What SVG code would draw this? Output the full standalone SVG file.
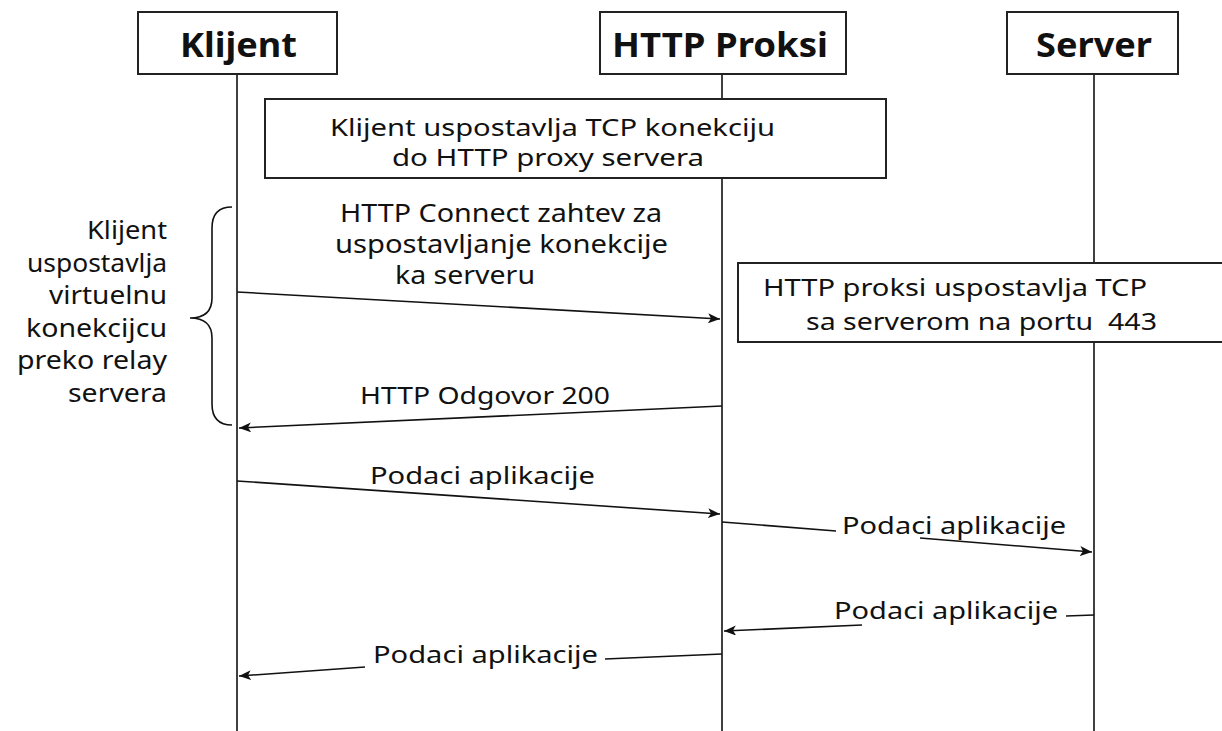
<svg xmlns="http://www.w3.org/2000/svg" width="1222" height="731" viewBox="0 0 1222 731">
<style>
.box{fill:#fff;stroke:#222;stroke-width:2}
.life{stroke:#111;stroke-width:1.6;fill:none}
.msg{stroke:#111;stroke-width:1.6;fill:none}
.title{font-family:"Noto Sans","DejaVu Sans",sans-serif;font-weight:bold;font-size:34px;fill:#111}
.t{font-family:"Noto Sans","DejaVu Sans",sans-serif;font-size:24px;fill:#111}
.tc{font-family:"Noto Sans","DejaVu Sans",sans-serif;font-size:25px;fill:#111}
.tb{font-family:"Noto Sans","DejaVu Sans",sans-serif;font-size:24px;fill:#111}
.side{font-family:"Noto Sans","DejaVu Sans",sans-serif;font-size:25px;fill:#111}
</style>
<defs>
<marker id="ah" viewBox="0 0 12 10" refX="12" refY="5" markerWidth="12" markerHeight="10" markerUnits="userSpaceOnUse" orient="auto">
<path d="M0,0 L12,5 L0,10 L3,5 Z" fill="#111"/>
</marker>
</defs>
<rect width="1222" height="731" fill="#fff"/>
<g id="lifelines">
<line class="life" x1="237" y1="74" x2="237" y2="731"/>
<line class="life" x1="722" y1="74" x2="722" y2="731"/>
<line class="life" x1="1094" y1="74" x2="1094" y2="731"/>
</g>
<g id="klijent">
<rect class="box" x="138" y="12" width="199" height="62"/>
<text class="title" x="180" y="57" textLength="117" lengthAdjust="spacingAndGlyphs">Klijent</text>
</g>
<g id="proksi">
<rect class="box" x="600" y="12" width="246" height="62"/>
<text class="title" x="612" y="57" textLength="216" lengthAdjust="spacingAndGlyphs">HTTP Proksi</text>
</g>
<g id="server">
<rect class="box" x="1007" y="12" width="171" height="62"/>
<text class="title" x="1036" y="57" textLength="116" lengthAdjust="spacingAndGlyphs">Server</text>
</g>
<g id="note1">
<rect class="box" x="265" y="99" width="621" height="79"/>
<text class="tb" x="330" y="136" textLength="445" lengthAdjust="spacingAndGlyphs">Klijent uspostavlja TCP konekciju</text>
<text class="tb" x="392" y="166" textLength="312" lengthAdjust="spacingAndGlyphs">do HTTP proxy servera</text>
</g>
<g id="note2">
<rect class="box" x="738" y="263" width="490" height="79"/>
<text class="t" x="763" y="296" textLength="384" lengthAdjust="spacingAndGlyphs">HTTP proksi uspostavlja TCP</text>
<text class="t" x="806" y="330" textLength="351" lengthAdjust="spacingAndGlyphs" xml:space="preserve">sa serverom na portu  443</text>
</g>
<g id="brace-note">
<path class="msg" d="M232,207 C218,207 212,214 212,228 L212,298 C212,312 204,318 190,318 C204,318 212,324 212,338 L212,404 C212,418 218,425 232,425"/>
<text class="side" x="167" y="239" text-anchor="end" textLength="80" lengthAdjust="spacingAndGlyphs">Klijent</text>
<text class="side" x="167" y="271.5" text-anchor="end" textLength="140" lengthAdjust="spacingAndGlyphs">uspostavlja</text>
<text class="side" x="167" y="304" text-anchor="end" textLength="118" lengthAdjust="spacingAndGlyphs">virtuelnu</text>
<text class="side" x="167" y="336.5" text-anchor="end" textLength="141" lengthAdjust="spacingAndGlyphs">konekcijcu</text>
<text class="side" x="167" y="369" text-anchor="end" textLength="150" lengthAdjust="spacingAndGlyphs">preko relay</text>
<text class="side" x="167" y="401.5" text-anchor="end" textLength="99" lengthAdjust="spacingAndGlyphs">servera</text>
</g>
<g id="connectors">
<line class="msg" x1="237" y1="292" x2="720" y2="319" marker-end="url(#ah)"/>
<line class="msg" x1="722" y1="406" x2="239" y2="428" marker-end="url(#ah)"/>
<line class="msg" x1="237" y1="481" x2="720" y2="514" marker-end="url(#ah)"/>
<line class="msg" x1="722" y1="522" x2="836" y2="531"/>
<line class="msg" x1="920" y1="538" x2="1092" y2="552" marker-end="url(#ah)"/>
<line class="msg" x1="1094" y1="615" x2="1066" y2="616"/>
<line class="msg" x1="862" y1="625" x2="724" y2="631" marker-end="url(#ah)"/>
<line class="msg" x1="722" y1="654" x2="605" y2="659"/>
<line class="msg" x1="365" y1="667" x2="239" y2="676" marker-end="url(#ah)"/>
</g>
<g id="labels">
<text class="tc" x="340" y="222" textLength="322" lengthAdjust="spacingAndGlyphs">HTTP Connect zahtev za</text>
<text class="tc" x="335" y="253" textLength="333" lengthAdjust="spacingAndGlyphs">uspostavljanje konekcije</text>
<text class="tc" x="395" y="284" textLength="140" lengthAdjust="spacingAndGlyphs">ka serveru</text>
<text class="t" x="360" y="404" textLength="250" lengthAdjust="spacingAndGlyphs">HTTP Odgovor 200</text>
<text class="t" x="370" y="484" textLength="225" lengthAdjust="spacingAndGlyphs">Podaci aplikacije</text>
<text class="t" x="842" y="534" textLength="224" lengthAdjust="spacingAndGlyphs">Podaci aplikacije</text>
<text class="t" x="834" y="619" textLength="224" lengthAdjust="spacingAndGlyphs">Podaci aplikacije</text>
<text class="t" x="373" y="663" textLength="225" lengthAdjust="spacingAndGlyphs">Podaci aplikacije</text>
</g>
</svg>
